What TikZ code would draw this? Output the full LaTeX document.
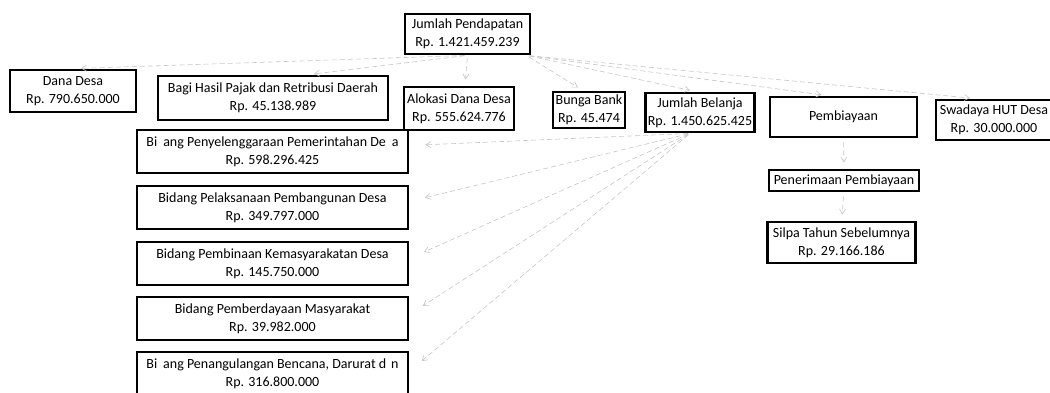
\documentclass[tikz,border=0pt]{standalone}
\usepackage{fontspec}
\setmainfont{Carlito}
\usetikzlibrary{arrows.meta}
\begin{document}
\begin{tikzpicture}[x=1pt,y=-1pt,
  box/.style={draw=black,line width=2.8pt,align=center,inner sep=1pt,font=\fontsize{14}{18}\selectfont},
  link/.style={draw=gray!45,line width=0.6pt,dashed,dash pattern=on 5pt off 3pt,-{Straight Barb[length=5pt,width=6pt]}}]
\useasboundingbox (0,0) rectangle (1050,392);
\node[box,minimum width=125pt,minimum height=40pt] (jp) at (467.5,34) {Jumlah Pendapatan\\Rp. 1.421.459.239};
\node[box,minimum width=126pt,minimum height=42pt] (dd) at (73,91) {Dana Desa\\Rp. 790.650.000};
\node[box,minimum width=230pt,minimum height=44pt] (bh) at (273,98) {Bagi Hasil Pajak dan Retribusi Daerah\\Rp. 45.138.989};
\node[box,minimum width=110pt,minimum height=43pt] (ad) at (459,108.5) {Alokasi Dana Desa\\Rp. 555.624.776};
\node[box,minimum width=72pt,minimum height=36pt] (bb) at (589,110) {Bunga Bank\\Rp. 45.474};
\node[box,minimum width=109pt,minimum height=39pt] (jb) at (700,112.5) {Jumlah Belanja\\Rp. 1.450.625.425};
\node[box,minimum width=147pt,minimum height=40pt] (pb) at (843.5,117) {Pembiayaan};
\node[box,minimum width=116pt,minimum height=40pt] (sw) at (994,120) {Swadaya HUT Desa\\Rp. 30.000.000};
\node[box,minimum width=271pt,minimum height=43pt] (b1) at (272.5,151.5) {Bi\hspace{6pt}ang Penyelenggaraan Pemerintahan De\hspace{6pt}a\\Rp. 598.296.425};
\node[box,minimum width=271pt,minimum height=43pt] (b2) at (272.5,207.5) {Bidang Pelaksanaan Pembangunan Desa\\Rp. 349.797.000};
\node[box,minimum width=271pt,minimum height=43pt] (b3) at (272.5,263.5) {Bidang Pembinaan Kemasyarakatan Desa\\Rp. 145.750.000};
\node[box,minimum width=271pt,minimum height=43pt] (b4) at (272.5,318.5) {Bidang Pemberdayaan Masyarakat\\Rp. 39.982.000};
\node[box,minimum width=271pt,minimum height=43pt] (b5) at (272.5,373.5) {Bi\hspace{6pt}ang Penangulangan Bencana, Darurat d\hspace{5pt}n\\Rp. 316.800.000};
\node[box,minimum width=150pt,minimum height=21pt] (pp) at (844,180.5) {Penerimaan Pembiayaan};
\node[box,minimum width=148pt,minimum height=41pt] (sl) at (841.5,242.5) {Silpa Tahun Sebelumnya\\Rp. 29.166.186};
% top fan
\draw[link,shorten <=3pt,shorten >=8pt] (jp.south) -- (dd.north);
\draw[link,shorten <=3pt,shorten >=6pt] (jp.south) -- ([xshift=35pt]bh.north);
\draw[link,shorten <=3pt,shorten >=6pt] (jp.south) -- ([xshift=6pt]ad.north);
\draw[link,shorten <=3pt,shorten >=6pt] ([xshift=-5pt]jp.south east) -- ([xshift=-6pt]bb.north);
\draw[link,shorten <=3pt,shorten >=6pt] ([xshift=-5pt]jp.south east) -- ([xshift=-4pt]jb.north);
\draw[link,shorten <=3pt,shorten >=6pt] ([xshift=-5pt]jp.south east) -- ([xshift=-16pt]pb.north);
\draw[link,shorten <=3pt,shorten >=6pt] ([xshift=-5pt]jp.south east) -- ([xshift=-18pt]sw.north);
% belanja fan
\draw[link,shorten <=2pt,shorten >=16pt] ([xshift=-10pt]jb.south) -- ([yshift=6pt]b1.east);
\draw[link,shorten <=2pt,shorten >=16pt] ([xshift=-10pt]jb.south) -- ([yshift=6pt]b2.east);
\draw[link,shorten <=2pt,shorten >=16pt] ([xshift=-10pt]jb.south) -- ([yshift=5pt]b3.east);
\draw[link,shorten <=2pt,shorten >=16pt] ([xshift=-10pt]jb.south) -- ([yshift=4pt]b4.east);
\draw[link,shorten <=2pt,shorten >=16pt] ([xshift=-10pt]jb.south) -- ([yshift=2pt]b5.east);
% pembiayaan chain
\draw[link,shorten <=4pt,shorten >=6pt] (pb.south) -- (pp.north);
\draw[link,shorten <=4pt,shorten >=6pt] (pp.south) -- (sl.north);
\end{tikzpicture}
\end{document}
